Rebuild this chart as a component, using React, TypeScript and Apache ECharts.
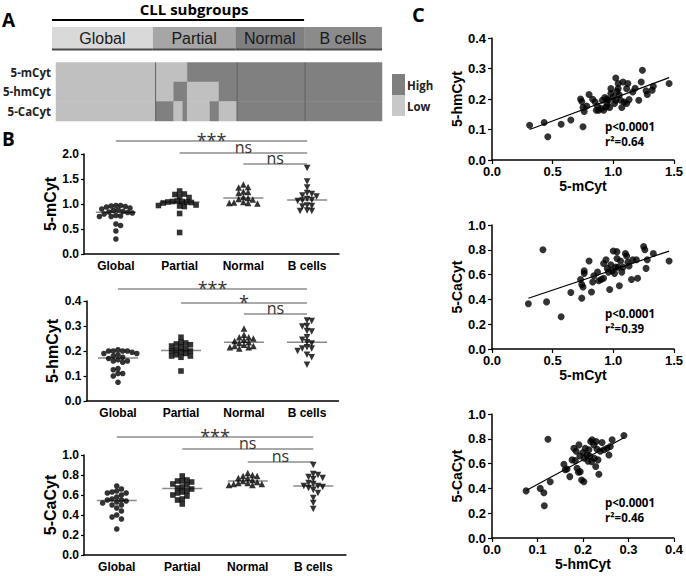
import React, { useEffect, useRef } from 'react';
import * as echarts from 'echarts';

// ---------------- data ----------------
const groups = ['Global', 'Partial', 'Normal', 'B cells'];
const groupSizes = [22, 18, 15, 17];
const headerColors = ['#d9d9d9', '#a6a6a6', '#7f7f7f', '#8b8b8b'];
const cllGroupsCount = 3;

const heatRows = ['5-mCyt', '5-hmCyt', '5-CaCyt'];
const heatMCyt = ['LLLLLLLLLLLLLLLLLLLLLL', 'LLLLLLLHHHHHHHHHHH', 'HHHHHHHHHHHHHHH', 'HHHHHHHHHHHHHHHHH'];
const heatHmCyt = ['LLLLLLLLLLLLLLLLLLLLLL', 'LLLLHHHLLLLLLLHHHH', 'HHHHHHHHHHHHHHH', 'HHHHHHHHHHHHHHHHH'];
const heatCaCyt = ['LLLLLLLLLLLLLLLLLLLLLL', 'HHHHLLHLLLLLHHLLLL', 'HHHHHHHHHHHHHHH', 'HHHHHHHHHHHHHHHHH'];
const heatLegend = ['High', 'Low'];

const mCytGlobal = [0.97, 0.96, 0.97, 0.95, 0.94, 0.92, 0.90, 0.88, 0.87, 0.85, 0.84, 0.83, 0.82, 0.80, 0.77, 0.76, 0.75, 0.75, 0.60, 0.57, 0.46, 0.30];
const mCytPartial = [1.26, 1.20, 1.19, 1.15, 1.13, 1.06, 1.05, 1.05, 1.04, 1.04, 1.03, 1.02, 0.98, 0.97, 0.96, 0.95, 0.81, 0.43];
const mCytNormal = [1.39, 1.34, 1.33, 1.25, 1.24, 1.22, 1.14, 1.12, 1.10, 1.09, 1.04, 1.03, 1.02, 1.02, 1.01];
const mCytBcells = [1.72, 1.45, 1.33, 1.22, 1.20, 1.17, 1.15, 1.10, 1.08, 1.07, 1.06, 0.97, 0.96, 0.95, 0.87, 0.86, 0.86];

const hmCytGlobal = [0.205, 0.20, 0.20, 0.20, 0.20, 0.195, 0.19, 0.19, 0.185, 0.18, 0.175, 0.17, 0.165, 0.16, 0.16, 0.155, 0.13, 0.125, 0.11, 0.11, 0.10, 0.075];
const hmCytPartial = [0.255, 0.235, 0.232, 0.228, 0.225, 0.22, 0.215, 0.21, 0.205, 0.20, 0.20, 0.195, 0.19, 0.185, 0.18, 0.18, 0.175, 0.12];
const hmCytNormal = [0.29, 0.265, 0.255, 0.255, 0.25, 0.245, 0.24, 0.235, 0.232, 0.225, 0.22, 0.22, 0.215, 0.215, 0.21];
const hmCytBcells = [0.322, 0.32, 0.30, 0.298, 0.28, 0.278, 0.255, 0.245, 0.235, 0.23, 0.215, 0.21, 0.21, 0.20, 0.185, 0.175, 0.145];

const caCytGlobal = [0.69, 0.66, 0.64, 0.63, 0.62, 0.62, 0.60, 0.58, 0.56, 0.55, 0.55, 0.54, 0.53, 0.52, 0.50, 0.50, 0.47, 0.44, 0.40, 0.38, 0.36, 0.26];
const caCytPartial = [0.79, 0.75, 0.74, 0.74, 0.73, 0.71, 0.70, 0.68, 0.67, 0.66, 0.64, 0.63, 0.62, 0.60, 0.59, 0.56, 0.55, 0.51];
const caCytNormal = [0.82, 0.80, 0.79, 0.79, 0.77, 0.77, 0.75, 0.74, 0.73, 0.72, 0.72, 0.71, 0.71, 0.70, 0.70];
const caCytBcells = [0.90, 0.81, 0.80, 0.78, 0.77, 0.76, 0.72, 0.71, 0.69, 0.69, 0.68, 0.67, 0.65, 0.62, 0.57, 0.52, 0.46];

const mCytTicks = [0, 0.5, 1.0, 1.5, 2.0];
const hmCytTicks = [0, 0.1, 0.2, 0.3, 0.4];
const caCytTicks = [0, 0.2, 0.4, 0.6, 0.8, 1.0];
const mCytScatterTicks = [0, 0.5, 1.0, 1.5];

const sigPairs = [[0, 3], [1, 3], [2, 3]];
const sigMCyt = ['***', 'ns', 'ns'];
const sigHmCyt = ['***', '*', 'ns'];
const sigCaCyt = ['***', 'ns', 'ns'];

const corrMvsHm = [[0.31, 0.114], [0.43, 0.123], [0.46, 0.076], [0.57, 0.117], [0.65, 0.131], [0.75, 0.109], [0.73, 0.200], [0.74, 0.192], [0.75, 0.172], [0.76, 0.159], [0.78, 0.177], [0.80, 0.215], [0.83, 0.199], [0.85, 0.190], [0.86, 0.163], [0.87, 0.176], [0.88, 0.163], [0.90, 0.169], [0.91, 0.196], [0.92, 0.163], [0.93, 0.205], [0.94, 0.174], [0.95, 0.183], [0.95, 0.200], [0.96, 0.196], [0.97, 0.172], [0.98, 0.234], [0.98, 0.218], [1.00, 0.207], [1.01, 0.185], [1.02, 0.269], [1.02, 0.196], [1.03, 0.225], [1.04, 0.234], [1.04, 0.251], [1.05, 0.213], [1.06, 0.196], [1.07, 0.172], [1.08, 0.256], [1.09, 0.190], [1.11, 0.234], [1.11, 0.185], [1.12, 0.251], [1.13, 0.198], [1.16, 0.223], [1.18, 0.235], [1.21, 0.196], [1.23, 0.256], [1.24, 0.294], [1.27, 0.227], [1.28, 0.215], [1.32, 0.229], [1.33, 0.242], [1.46, 0.251]];
const corrMvsCa = [[0.30, 0.365], [0.42, 0.80], [0.45, 0.38], [0.57, 0.26], [0.65, 0.456], [0.74, 0.41], [0.73, 0.56], [0.74, 0.52], [0.75, 0.50], [0.76, 0.61], [0.76, 0.63], [0.80, 0.71], [0.82, 0.46], [0.83, 0.54], [0.84, 0.59], [0.87, 0.62], [0.88, 0.55], [0.90, 0.56], [0.92, 0.57], [0.92, 0.69], [0.94, 0.72], [0.95, 0.65], [0.96, 0.62], [0.97, 0.48], [0.98, 0.68], [0.99, 0.63], [1.00, 0.79], [1.01, 0.61], [1.02, 0.66], [1.03, 0.73], [1.03, 0.785], [1.04, 0.66], [1.05, 0.51], [1.06, 0.71], [1.07, 0.62], [1.08, 0.66], [1.10, 0.77], [1.11, 0.75], [1.12, 0.70], [1.13, 0.67], [1.15, 0.56], [1.16, 0.72], [1.19, 0.72], [1.20, 0.57], [1.25, 0.826], [1.26, 0.80], [1.27, 0.65], [1.28, 0.72], [1.33, 0.77], [1.46, 0.71]];
const corrHmVsCa = [[0.075, 0.38], [0.106, 0.40], [0.114, 0.365], [0.115, 0.26], [0.123, 0.797], [0.128, 0.454], [0.158, 0.595], [0.161, 0.55], [0.165, 0.557], [0.171, 0.495], [0.176, 0.63], [0.18, 0.724], [0.183, 0.624], [0.185, 0.70], [0.187, 0.562], [0.19, 0.53], [0.191, 0.751], [0.193, 0.662], [0.194, 0.535], [0.197, 0.468], [0.20, 0.689], [0.202, 0.454], [0.203, 0.643], [0.205, 0.724], [0.209, 0.670], [0.211, 0.62], [0.213, 0.711], [0.215, 0.66], [0.217, 0.778], [0.219, 0.616], [0.22, 0.792], [0.224, 0.751], [0.225, 0.643], [0.228, 0.576], [0.229, 0.778], [0.231, 0.716], [0.233, 0.630], [0.235, 0.514], [0.238, 0.70], [0.242, 0.770], [0.246, 0.711], [0.253, 0.724], [0.257, 0.670], [0.26, 0.738], [0.264, 0.792], [0.29, 0.827]];
const pLabels = ['p<0.0001', 'p<0.0001', 'p<0.0001'];
const r2Labels = ['r\u00b2=0.64', 'r\u00b2=0.39', 'r\u00b2=0.46'];

// ---------------- styles / layout ----------------
const FONT_AX = '"Liberation Sans", Arial, sans-serif';
const FONT_CAL = '"Open Sans", sans-serif';
const HEAT_LOW = '#c0c0c0';
const HEAT_HIGH = '#808080';
const AXIS_LINE = { color: '#000', width: 1.5 };

const headerGrid = { left: 52, top: 27, width: 330, height: 22 };
const heatGrid = { left: 52, top: 62.5, width: 330, height: 58.5 };

const bPanels = [
  { left: 84, top: 154, width: 255, height: 100, name: '5-mCyt', ticks: mCytTicks, data: [mCytGlobal, mCytPartial, mCytNormal, mCytBcells], sig: sigMCyt, sigOff: [-13, -1, 10] },
  { left: 86.5, top: 301, width: 252, height: 100, name: '5-hmCyt', ticks: hmCytTicks, data: [hmCytGlobal, hmCytPartial, hmCytNormal, hmCytBcells], sig: sigHmCyt, sigOff: [-12, 2, 13] },
  { left: 84, top: 455, width: 262, height: 100, name: '5-CaCyt', ticks: caCytTicks, data: [caCytGlobal, caCytPartial, caCytNormal, caCytBcells], sig: sigCaCyt, sigOff: [-18, -6, 7] },
];

const cPanels = [
  { left: 492, top: 38, width: 182, height: 122, xName: '5-mCyt', yName: '5-hmCyt', xTicks: mCytScatterTicks, yTicks: hmCytTicks, pts: corrMvsHm },
  { left: 492, top: 225, width: 182, height: 124, xName: '5-mCyt', yName: '5-CaCyt', xTicks: mCytScatterTicks, yTicks: caCytTicks, pts: corrMvsCa },
  { left: 492, top: 414, width: 182, height: 124, xName: '5-hmCyt', yName: '5-CaCyt', xTicks: hmCytTicks, yTicks: caCytTicks, pts: corrHmVsCa },
];

const symbols = ['circle', 'rect', 'triangle', 'triangle'];
const symbolRot = [0, 0, 0, 180];
const symbolSizes = [5.6, 5.6, 6.6, 6.6];

// ---------------- helpers ----------------
function median(a: number[]) {
  const s = [...a].sort((x, y) => x - y);
  const n = s.length;
  return n % 2 ? s[(n - 1) / 2] : (s[n / 2 - 1] + s[n / 2]) / 2;
}

// deterministic beeswarm layout: returns x offsets (in category units)
function swarm(vals: number[], pxY: number, pxX: number, d: number) {
  const order = vals.map((_, i) => i).sort((a, b) => vals[b] - vals[a]);
  const placed: number[][] = [];
  const offs = new Array(vals.length).fill(0);
  const step = d * 0.5;
  let balance = 0;
  for (const i of order) {
    const y = vals[i] * pxY;
    let chosen = 0;
    const free = (cand: number) => {
      for (const [px, py] of placed) {
        const dx = px - cand, dy = py - y;
        if (dx * dx + dy * dy < d * d) return false;
      }
      return true;
    };
    for (let m = 0; m < 40; m++) {
      const first = balance > 0 ? -1 : 1;
      const c1 = m * step * first, c2 = -m * step * first;
      if (free(c1)) { chosen = c1; break; }
      if (m > 0 && free(c2)) { chosen = c2; break; }
    }
    balance += Math.sign(chosen);
    placed.push([chosen, y]);
    offs[i] = chosen / pxX;
  }
  return offs;
}

function linreg(pts: number[][]) {
  const n = pts.length;
  let sx = 0, sy = 0, sxx = 0, sxy = 0;
  for (const [x, y] of pts) { sx += x; sy += y; sxx += x * x; sxy += x * y; }
  const b = (n * sxy - sx * sy) / (n * sxx - sx * sx);
  const a = (sy - b * sx) / n;
  return { a, b };
}

function heatRuns() {
  const rows = [heatMCyt, heatHmCyt, heatCaCyt];
  const out: number[][] = [];
  rows.forEach((segs, r) => {
    const s = segs.join('');
    let start = 0;
    for (let i = 1; i <= s.length; i++) {
      if (i === s.length || s[i] !== s[start]) {
        out.push([start, i, r, s[start] === 'H' ? 1 : 0]);
        start = i;
      }
    }
  });
  return out;
}

const totalPatients = groupSizes.reduce((a, b) => a + b, 0);
const groupStarts = groupSizes.map((_, i) => groupSizes.slice(0, i).reduce((a, b) => a + b, 0));

function buildOption() {
  const grid: any[] = [headerGrid, heatGrid, ...bPanels.map(p => ({ left: p.left, top: p.top, width: p.width, height: p.height })), ...cPanels.map(p => ({ left: p.left, top: p.top, width: p.width, height: p.height }))];
  const xAxis: any[] = [
    { gridIndex: 0, type: 'value', min: 0, max: totalPatients, show: false },
    { gridIndex: 1, type: 'value', min: 0, max: totalPatients, show: false },
  ];
  const yAxis: any[] = [
    { gridIndex: 0, type: 'value', min: 0, max: 1, show: false },
    {
      gridIndex: 1, type: 'category', data: heatRows, inverse: true,
      axisLine: { show: false, onZero: false }, axisTick: { show: false },
      axisLabel: { fontFamily: FONT_CAL, fontWeight: 'bold', fontSize: 11.5, color: '#222', margin: 5 },
    },
  ];
  const series: any[] = [];

  // header band
  series.push({
    type: 'custom', xAxisIndex: 0, yAxisIndex: 0, silent: true, clip: false,
    data: groups.map((_, g) => [groupStarts[g], groupStarts[g] + groupSizes[g], 0.5, g]),
    encode: { x: [0, 1], y: 2 },
    renderItem: (params: any, api: any) => {
      const g = api.value(3);
      const p0 = api.coord([api.value(0), 1]);
      const p1 = api.coord([api.value(1), 0]);
      return {
        type: 'group', children: [
          { type: 'rect', shape: { x: p0[0], y: p0[1], width: p1[0] - p0[0], height: p1[1] - p0[1] }, style: { fill: headerColors[g] } },
          { type: 'line', shape: { x1: p0[0], y1: p1[1] + 0.5, x2: p1[0], y2: p1[1] + 0.5 }, style: { stroke: '#4a4a4a', lineWidth: 2 } },
          { type: 'text', x: (p0[0] + p1[0]) / 2, y: (p0[1] + p1[1]) / 2 + 0.5, style: { text: groups[g], fill: '#1a1a1a', fontSize: 16, fontFamily: FONT_AX, align: 'center', verticalAlign: 'middle' } },
        ],
      };
    },
  });
  // CLL subgroups bracket
  series.push({
    type: 'custom', xAxisIndex: 0, yAxisIndex: 0, silent: true, clip: false,
    data: [[0, groupStarts[cllGroupsCount], 1]],
    encode: { x: [0, 1], y: 2 },
    renderItem: (params: any, api: any) => {
      const p0 = api.coord([api.value(0), 1]);
      const p1 = api.coord([api.value(1), 1]);
      const y = p0[1] - 7;
      return {
        type: 'group', children: [
          { type: 'line', shape: { x1: p0[0], y1: y, x2: p1[0], y2: y }, style: { stroke: '#000', lineWidth: 2 } },
          { type: 'text', x: (p0[0] + p1[0]) / 2 + 16, y: y - 11, style: { text: 'CLL subgroups', fill: '#000', fontSize: 15, fontWeight: 'bold', fontFamily: FONT_CAL, align: 'center', verticalAlign: 'middle' } },
        ],
      };
    },
  });
  // heatmap
  series.push({
    type: 'custom', xAxisIndex: 1, yAxisIndex: 1, silent: true,
    data: heatRuns(),
    encode: { x: [0, 1], y: 2 },
    renderItem: (params: any, api: any) => {
      const r = api.value(2);
      const p0 = api.coord([api.value(0), r]);
      const p1 = api.coord([api.value(1), r]);
      const h = api.size([0, 1])[1];
      const col = api.value(3) ? HEAT_HIGH : HEAT_LOW;
      return { type: 'rect', shape: { x: p0[0], y: p0[1] - h / 2, width: p1[0] - p0[0], height: h }, style: { fill: col, stroke: col, lineWidth: 0.5 } };
    },
  });
  series.push({
    type: 'custom', xAxisIndex: 1, yAxisIndex: 1, silent: true,
    data: groupStarts.slice(1).map(s => [s, 0]),
    encode: { x: 0, y: 1 },
    renderItem: (params: any, api: any) => {
      const p = api.coord([api.value(0), 0]);
      const cs = params.coordSys;
      return { type: 'line', shape: { x1: p[0], y1: cs.y, x2: p[0], y2: cs.y + cs.height }, style: { stroke: '#606060', lineWidth: 1 } };
    },
  });

  // panel B
  bPanels.forEach((p, pi) => {
    const gi = 2 + pi;
    xAxis.push({
      gridIndex: gi, type: 'category', data: groups, position: 'bottom',
      axisLine: { onZero: false, lineStyle: AXIS_LINE }, axisTick: { alignWithLabel: true, length: 3, lineStyle: { color: '#000', width: 1.2 } },
      axisLabel: { fontFamily: FONT_AX, fontWeight: 'bold', fontSize: 12, color: '#000', margin: 6 },
    });
    const valIdx = xAxis.length;
    xAxis.push({ gridIndex: gi, type: 'value', min: -0.5, max: groups.length - 0.5, show: false, position: 'top', axisLine: { onZero: false } });
    const yIdx = yAxis.length;
    const tmin = p.ticks[0], tmax = p.ticks[p.ticks.length - 1];
    yAxis.push({
      gridIndex: gi, type: 'value', min: tmin, max: tmax, interval: p.ticks[1] - p.ticks[0], position: 'left',
      axisLine: { show: true, onZero: false, lineStyle: AXIS_LINE }, axisTick: { show: true, length: 3, lineStyle: { color: '#000', width: 1.2 } },
      splitLine: { show: false },
      axisLabel: { fontFamily: FONT_AX, fontWeight: 'bold', fontSize: 12, color: '#000', margin: 5, formatter: (v: number) => v.toFixed(1) },
      name: p.name, nameLocation: 'middle', nameGap: 22,
      nameTextStyle: { fontFamily: FONT_AX, fontWeight: 'bold', fontSize: 16, color: '#000' },
    });
    const pxY = p.height / (tmax - tmin);
    const pxX = p.width / groups.length;
    p.data.forEach((vals, g) => {
      const offs = swarm(vals, pxY, pxX, 4.7);
      series.push({
        type: 'scatter', xAxisIndex: valIdx, yAxisIndex: yIdx, silent: true,
        symbol: symbols[g], symbolRotate: symbolRot[g], symbolSize: symbolSizes[g],
        itemStyle: { color: '#000' },
        data: vals.map((v, i) => [g + offs[i], v]),
      });
    });
    series.push({
      type: 'custom', xAxisIndex: valIdx, yAxisIndex: yIdx, silent: true,
      data: p.data.map((vals, g) => [g, median(vals)]),
      encode: { x: 0, y: 1 },
      renderItem: (params: any, api: any) => {
        const c = api.coord([api.value(0), api.value(1)]);
        return { type: 'line', shape: { x1: c[0] - 20, y1: c[1], x2: c[0] + 20, y2: c[1] }, style: { stroke: '#8a8a8a', lineWidth: 1.5 } };
      },
    });
    const labels = p.sig;
    const offsArr = p.sigOff;
    series.push({
      type: 'custom', xAxisIndex: valIdx, yAxisIndex: yIdx, silent: true, clip: false,
      data: sigPairs.map(([a, b], i) => [a, b, i]),
      encode: { x: [0, 1] },
      renderItem: (params: any, api: any) => {
        const i = api.value(2);
        const pa = api.coord([api.value(0), tmin]);
        const pb = api.coord([api.value(1), tmin]);
        const y = params.coordSys.y + offsArr[i];
        const lab = labels[i];
        const star = /^\*+$/.test(lab);
        return {
          type: 'group', children: [
            { type: 'line', shape: { x1: pa[0], y1: y, x2: pb[0], y2: y }, style: { stroke: '#555', lineWidth: 1 } },
            {
              type: 'text', x: (pa[0] + pb[0]) / 2, y: star ? y - 1 : y + 2,
              style: { text: lab, fill: '#333', fontFamily: FONT_CAL, fontSize: star ? 18 : 16, align: 'center', verticalAlign: star ? 'middle' : 'bottom' },
            },
          ],
        };
      },
    });
  });

  // panel C
  cPanels.forEach((p, ci) => {
    const gi = 5 + ci;
    const xIdx = xAxis.length;
    xAxis.push({
      gridIndex: gi, type: 'value', min: p.xTicks[0], max: p.xTicks[p.xTicks.length - 1], interval: p.xTicks[1] - p.xTicks[0],
      axisLine: { show: true, onZero: false, lineStyle: AXIS_LINE }, axisTick: { show: true, length: 4, lineStyle: { color: '#000', width: 1.2 } },
      splitLine: { show: false },
      axisLabel: { fontFamily: FONT_AX, fontWeight: 'bold', fontSize: 13, color: '#000', margin: 5, formatter: (v: number) => v.toFixed(1) },
      name: p.xName, nameLocation: 'middle', nameGap: 17,
      nameTextStyle: { fontFamily: FONT_AX, fontWeight: 'bold', fontSize: 14, color: '#000' },
    });
    const yIdx = yAxis.length;
    yAxis.push({
      gridIndex: gi, type: 'value', min: p.yTicks[0], max: p.yTicks[p.yTicks.length - 1], interval: p.yTicks[1] - p.yTicks[0],
      axisLine: { show: true, onZero: false, lineStyle: AXIS_LINE }, axisTick: { show: true, length: 4, lineStyle: { color: '#000', width: 1.2 } },
      splitLine: { show: false },
      axisLabel: { fontFamily: FONT_AX, fontWeight: 'bold', fontSize: 13, color: '#000', margin: 6, formatter: (v: number) => v.toFixed(1) },
      name: p.yName, nameLocation: 'middle', nameGap: 18,
      nameTextStyle: { fontFamily: FONT_AX, fontWeight: 'bold', fontSize: 14, color: '#000' },
    });
    series.push({
      type: 'scatter', xAxisIndex: xIdx, yAxisIndex: yIdx, silent: true,
      symbolSize: 7, itemStyle: { color: '#000' }, data: p.pts,
    });
    const { a, b } = linreg(p.pts);
    const xs = p.pts.map(q => q[0]);
    const x0 = Math.min(...xs), x1 = Math.max(...xs);
    series.push({
      type: 'line', xAxisIndex: xIdx, yAxisIndex: yIdx, silent: true, showSymbol: false,
      lineStyle: { color: '#000', width: 1.2 },
      data: [[x0, a + b * x0], [x1, a + b * x1]],
    });
  });

  const graphic: any[] = [
    { type: 'text', x: 2, y: 20, style: { text: 'A', fill: '#000', fontFamily: FONT_CAL, fontWeight: 'bold', fontSize: 19, verticalAlign: 'middle' } },
    { type: 'text', x: 2, y: 139, style: { text: 'B', fill: '#000', fontFamily: FONT_CAL, fontWeight: 'bold', fontSize: 19, verticalAlign: 'middle' } },
    { type: 'text', x: 412, y: 14, style: { text: 'C', fill: '#000', fontFamily: FONT_CAL, fontWeight: 'bold', fontSize: 20, verticalAlign: 'middle' } },
    { type: 'rect', shape: { x: 392, y: 74, width: 13, height: 21 }, style: { fill: '#7f7f7f' } },
    { type: 'rect', shape: { x: 392, y: 95, width: 13, height: 21 }, style: { fill: '#c8c8c8' } },
    { type: 'text', x: 407, y: 85, style: { text: heatLegend[0], fill: '#222', fontFamily: FONT_CAL, fontWeight: 'bold', fontSize: 11.5, verticalAlign: 'middle' } },
    { type: 'text', x: 407, y: 106, style: { text: heatLegend[1], fill: '#222', fontFamily: FONT_CAL, fontWeight: 'bold', fontSize: 11.5, verticalAlign: 'middle' } },
  ];
  cPanels.forEach((p, ci) => {
    graphic.push({ type: 'text', x: p.left + 113, y: p.top + 88.5, style: { text: pLabels[ci], fill: '#000', fontFamily: FONT_CAL, fontWeight: 'bold', fontSize: 11.5, verticalAlign: 'middle' } });
    graphic.push({ type: 'text', x: p.left + 113, y: p.top + 103.5, style: { text: r2Labels[ci], fill: '#000', fontFamily: FONT_CAL, fontWeight: 'bold', fontSize: 11.5, verticalAlign: 'middle' } });
  });

  return { animation: false, backgroundColor: '#fff', grid, xAxis, yAxis, series, graphic };
}

export default function App() {
  const ref = useRef<HTMLDivElement>(null);
  useEffect(() => {
    if (!ref.current) return;
    const chart = echarts.init(ref.current, undefined, { renderer: 'svg' });
    chart.setOption(buildOption() as any);
    return () => chart.dispose();
  }, []);
  return <div ref={ref} style={{ position: 'fixed', left: 0, top: 0, width: 686, height: 576, background: '#fff' }} />;
}
